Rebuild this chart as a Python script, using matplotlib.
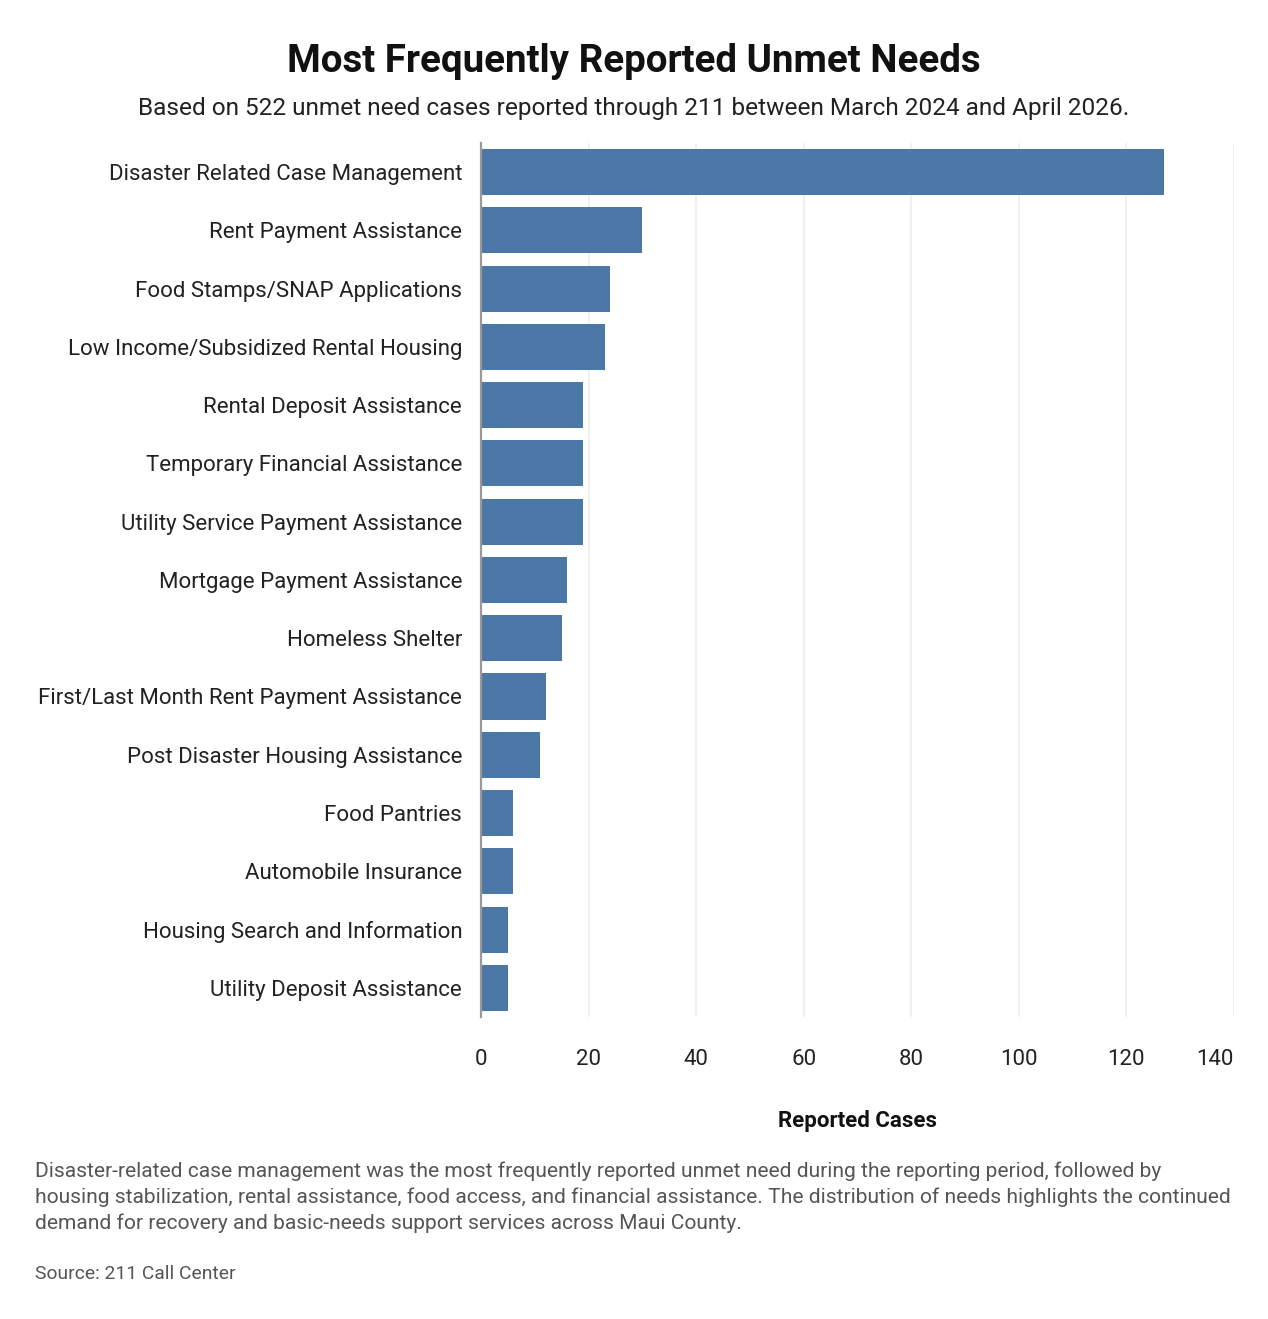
import matplotlib.pyplot as plt

# Data
categories = [
    "Disaster Related Case Management",
    "Rent Payment Assistance",
    "Food Stamps/SNAP Applications",
    "Low Income/Subsidized Rental Housing",
    "Rental Deposit Assistance",
    "Temporary Financial Assistance",
    "Utility Service Payment Assistance",
    "Mortgage Payment Assistance",
    "Homeless Shelter",
    "First/Last Month Rent Payment Assistance",
    "Post Disaster Housing Assistance",
    "Food Pantries",
    "Automobile Insurance",
    "Housing Search and Information",
    "Utility Deposit Assistance",
]
cases = [127, 30, 24, 23, 19, 19, 19, 16, 15, 12, 11, 6, 6, 5, 5]
x_ticks = [0, 20, 40, 60, 80, 100, 120, 140]

title = "Most Frequently Reported Unmet Needs"
subtitle = "Based on 522 unmet need cases reported through 211 between March 2024 and April 2026."
note = ("Disaster-related case management was the most frequently reported unmet need during the reporting period, followed by\n"
        "housing stabilization, rental assistance, food access, and financial assistance. The distribution of needs highlights the continued\n"
        "demand for recovery and basic-needs support services across Maui County.")
source = "Source: 211 Call Center"

plt.rcParams['font.family'] = ['Roboto', 'DejaVu Sans']

fig = plt.figure(figsize=(12.68, 13.19), dpi=100)
ax = fig.add_axes([0.3793, 0.229, 0.5939, 0.6626])

ax.barh(range(len(categories)), cases, height=0.79, color='#4C78A8')
ax.set_ylim(len(categories) - 0.5, -0.5)
ax.set_xlim(0, 140)
ax.set_yticks(range(len(categories)))
ax.set_yticklabels(categories, fontsize=16, color='#222222')
ax.set_xticks(x_ticks)
xlabs = ax.set_xticklabels([str(t) for t in x_ticks], fontsize=16, color='#222222')
xlabs[-1].set_ha('right')  # last label kept inside the plot edge
ax.tick_params(axis='both', length=0)
ax.tick_params(axis='y', pad=13.5)
ax.tick_params(axis='x', pad=23)

ax.grid(axis='x', color='#eeeeee', linewidth=1.2)
ax.set_axisbelow(True)
for s in ['top', 'right', 'bottom']:
    ax.spines[s].set_visible(False)
ax.spines['left'].set_color('#999999')
ax.spines['left'].set_linewidth(1.6)

ax.set_xlabel("Reported Cases", fontsize=16, fontweight='bold', color='#111111', labelpad=29)

fig.text(0.5, 1 - 61 / 1319, title, ha='center', va='center', fontsize=27.7, fontweight='bold', color='#111111')
fig.text(0.5, 1 - 108 / 1319, subtitle, ha='center', va='center', fontsize=17.6, color='#222222')
fig.text(35 / 1268, 1 - 1161 / 1319, note, ha='left', va='top', fontsize=15.1, color='#555555', linespacing=1.43)
fig.text(35 / 1268, 1 - 1274 / 1319, source, ha='left', va='center', fontsize=13.9, color='#555555')

fig.savefig('out.png', dpi=100)
